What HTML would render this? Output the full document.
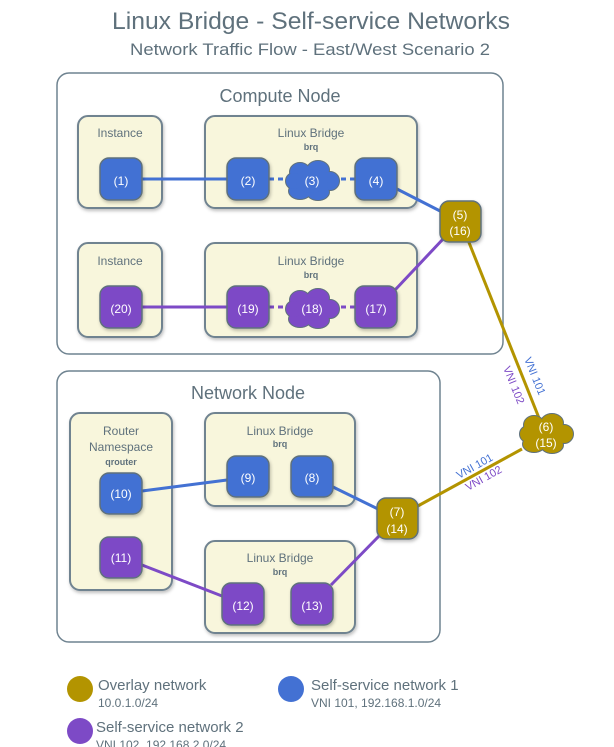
<!DOCTYPE html>
<html><head><meta charset="utf-8"><style>
html,body{margin:0;padding:0;background:#fff}
svg{display:block;font-family:"Liberation Sans",sans-serif}
.t{fill:#5f717c}
.w{fill:#fff;font-size:12px;text-anchor:middle}
.box{fill:#f8f6dc;stroke:#6f8390;stroke-width:2}
.nb{stroke:#5f717c;stroke-width:1.5}
</style></head><body>
<svg width="614" height="747" viewBox="0 0 614 747">
<defs>
<filter id="sh" x="-20%" y="-20%" width="140%" height="140%"><feDropShadow dx="1" dy="2" stdDeviation="1.5" flood-color="#000" flood-opacity="0.25"/></filter>
</defs>
<text x="311" y="29" class="t" font-size="24" text-anchor="middle" textLength="398" lengthAdjust="spacingAndGlyphs">Linux Bridge - Self-service Networks</text>
<text x="310" y="55" class="t" font-size="17" text-anchor="middle" textLength="360" lengthAdjust="spacingAndGlyphs">Network Traffic Flow - East/West Scenario 2</text>

<rect x="57" y="73" width="446" height="281" rx="12" fill="#fff" stroke="#6f8390" stroke-width="1.5"/>
<text x="280" y="102" class="t" font-size="18" text-anchor="middle">Compute Node</text>
<rect x="57" y="371" width="383" height="271" rx="12" fill="#fff" stroke="#6f8390" stroke-width="1.5"/>
<text x="248" y="399" class="t" font-size="18" text-anchor="middle">Network Node</text>

<g filter="url(#sh)">
<rect class="box" x="78" y="116" width="84" height="92" rx="10"/>
<rect class="box" x="205" y="116" width="212" height="92" rx="10"/>
<rect class="box" x="78" y="243" width="84" height="94" rx="10"/>
<rect class="box" x="205" y="243" width="212" height="94" rx="10"/>
<rect class="box" x="70" y="413" width="102" height="177" rx="10"/>
<rect class="box" x="205" y="413" width="150" height="93" rx="10"/>
<rect class="box" x="205" y="541" width="150" height="92" rx="10"/>
</g>
<g class="t" text-anchor="middle">
<text x="120" y="137" font-size="12">Instance</text>
<text x="311" y="137" font-size="12">Linux Bridge</text>
<text x="311" y="150" font-size="9" font-weight="bold">brq</text>
<text x="120" y="265" font-size="12">Instance</text>
<text x="311" y="265" font-size="12">Linux Bridge</text>
<text x="311" y="278" font-size="9" font-weight="bold">brq</text>
<text x="121" y="435" font-size="12">Router</text>
<text x="121" y="451" font-size="12">Namespace</text>
<text x="121" y="465" font-size="9" font-weight="bold">qrouter</text>
<text x="280" y="435" font-size="12">Linux Bridge</text>
<text x="280" y="447" font-size="9" font-weight="bold">brq</text>
<text x="280" y="562" font-size="12">Linux Bridge</text>
<text x="280" y="575" font-size="9" font-weight="bold">brq</text>
</g>

<g stroke-width="3" fill="none">
<line x1="142" y1="179" x2="227" y2="179" stroke="#4371d3"/>
<line x1="269" y1="179" x2="355" y2="179" stroke="#4371d3" stroke-dasharray="5,4"/>
<line x1="397" y1="189" x2="444" y2="213" stroke="#4371d3"/>
<line x1="142" y1="307" x2="227" y2="307" stroke="#7d4ac6"/>
<line x1="269" y1="307" x2="355" y2="307" stroke="#7d4ac6" stroke-dasharray="5,4"/>
<line x1="395" y1="290" x2="444" y2="238" stroke="#7d4ac6"/>
<line x1="142" y1="491" x2="227" y2="480" stroke="#4371d3"/>
<line x1="333" y1="487" x2="380" y2="510" stroke="#4371d3"/>
<line x1="142" y1="565" x2="222" y2="596" stroke="#7d4ac6"/>
<line x1="331" y1="585" x2="380" y2="535" stroke="#7d4ac6"/>
<line x1="468" y1="240" x2="539" y2="418" stroke="#b39400"/>
<line x1="416" y1="507" x2="522" y2="449" stroke="#b39400"/>
</g>
<g font-size="11" fill="#4371d3">
<text transform="translate(524,359) rotate(68)">VNI 101</text>
<text transform="translate(459,479) rotate(-29)">VNI 101</text>
</g>
<g font-size="11" fill="#7d4ac6">
<text transform="translate(503,368) rotate(68)">VNI 102</text>
<text transform="translate(468,491) rotate(-29)">VNI 102</text>
</g>

<g filter="url(#sh)">
<g fill="#4371d3" class="nb">
<rect x="100" y="158" width="42" height="42" rx="9"/>
<rect x="227" y="158" width="42" height="42" rx="9"/>
<rect x="355" y="158" width="42" height="42" rx="9"/>
<rect x="100" y="473" width="42" height="41" rx="9"/>
<rect x="227" y="456" width="42" height="41" rx="9"/>
<rect x="291" y="456" width="42" height="41" rx="9"/>
</g>
<g fill="#7d4ac6" class="nb">
<rect x="100" y="286" width="42" height="42" rx="9"/>
<rect x="227" y="286" width="42" height="42" rx="9"/>
<rect x="355" y="286" width="42" height="42" rx="9"/>
<rect x="100" y="537" width="42" height="41" rx="9"/>
<rect x="222" y="583" width="42" height="42" rx="9"/>
<rect x="291" y="583" width="42" height="42" rx="9"/>
</g>
<g fill="#b39400" class="nb">
<rect x="440" y="201" width="41" height="41" rx="9"/>
<rect x="377" y="498" width="41" height="41" rx="9"/>
</g>
</g>

<g>
<g stroke="#5f717c" stroke-width="2" fill="#4371d3">
<ellipse cx="300" cy="172" rx="10" ry="9"/><ellipse cx="318" cy="170" rx="11" ry="9"/>
<ellipse cx="330" cy="181" rx="9" ry="9"/><ellipse cx="318" cy="192" rx="11" ry="8"/>
<ellipse cx="300" cy="191" rx="11" ry="8"/><ellipse cx="294" cy="181" rx="8" ry="8"/>
</g>
<g fill="#4371d3">
<ellipse cx="300" cy="172" rx="10" ry="9"/><ellipse cx="318" cy="170" rx="11" ry="9"/>
<ellipse cx="330" cy="181" rx="9" ry="9"/><ellipse cx="318" cy="192" rx="11" ry="8"/>
<ellipse cx="300" cy="191" rx="11" ry="8"/><ellipse cx="294" cy="181" rx="8" ry="8"/>
<ellipse cx="312" cy="181" rx="16" ry="12"/>
</g>
</g>
<g transform="translate(0,128)">
<g stroke="#5f717c" stroke-width="2" fill="#7d4ac6">
<ellipse cx="300" cy="172" rx="10" ry="9"/><ellipse cx="318" cy="170" rx="11" ry="9"/>
<ellipse cx="330" cy="181" rx="9" ry="9"/><ellipse cx="318" cy="192" rx="11" ry="8"/>
<ellipse cx="300" cy="191" rx="11" ry="8"/><ellipse cx="294" cy="181" rx="8" ry="8"/>
</g>
<g fill="#7d4ac6">
<ellipse cx="300" cy="172" rx="10" ry="9"/><ellipse cx="318" cy="170" rx="11" ry="9"/>
<ellipse cx="330" cy="181" rx="9" ry="9"/><ellipse cx="318" cy="192" rx="11" ry="8"/>
<ellipse cx="300" cy="191" rx="11" ry="8"/><ellipse cx="294" cy="181" rx="8" ry="8"/>
<ellipse cx="312" cy="181" rx="16" ry="12"/>
</g>
</g>
<g transform="translate(234,253)">
<g stroke="#5f717c" stroke-width="2" fill="#b39400">
<ellipse cx="300" cy="172" rx="10" ry="9"/><ellipse cx="318" cy="170" rx="11" ry="9"/>
<ellipse cx="330" cy="181" rx="9" ry="9"/><ellipse cx="318" cy="192" rx="11" ry="8"/>
<ellipse cx="300" cy="191" rx="11" ry="8"/><ellipse cx="294" cy="181" rx="8" ry="8"/>
</g>
<g fill="#b39400">
<ellipse cx="300" cy="172" rx="10" ry="9"/><ellipse cx="318" cy="170" rx="11" ry="9"/>
<ellipse cx="330" cy="181" rx="9" ry="9"/><ellipse cx="318" cy="192" rx="11" ry="8"/>
<ellipse cx="300" cy="191" rx="11" ry="8"/><ellipse cx="294" cy="181" rx="8" ry="8"/>
<ellipse cx="312" cy="181" rx="16" ry="12"/>
</g>
</g>

<g class="w">
<text x="121" y="185">(1)</text>
<text x="248" y="185">(2)</text>
<text x="312" y="185">(3)</text>
<text x="376" y="185">(4)</text>
<text x="460" y="219">(5)</text>
<text x="460" y="235">(16)</text>
<text x="121" y="313">(20)</text>
<text x="248" y="313">(19)</text>
<text x="312" y="313">(18)</text>
<text x="376" y="313">(17)</text>
<text x="546" y="431">(6)</text>
<text x="546" y="447">(15)</text>
<text x="121" y="498">(10)</text>
<text x="248" y="482">(9)</text>
<text x="312" y="482">(8)</text>
<text x="397" y="516">(7)</text>
<text x="397" y="533">(14)</text>
<text x="121" y="562">(11)</text>
<text x="243" y="610">(12)</text>
<text x="312" y="610">(13)</text>
</g>

<circle cx="80" cy="689" r="13" fill="#b39400"/>
<circle cx="291" cy="689" r="13" fill="#4371d3"/>
<circle cx="80" cy="731" r="13" fill="#7d4ac6"/>
<g class="t">
<text x="98" y="690" font-size="15">Overlay network</text>
<text x="98" y="707" font-size="12">10.0.1.0/24</text>
<text x="311" y="690" font-size="15">Self-service network 1</text>
<text x="311" y="707" font-size="12">VNI 101, 192.168.1.0/24</text>
<text x="96" y="732" font-size="15">Self-service network 2</text>
<text x="96" y="749" font-size="12">VNI 102, 192.168.2.0/24</text>
</g>
</svg>
</body></html>
